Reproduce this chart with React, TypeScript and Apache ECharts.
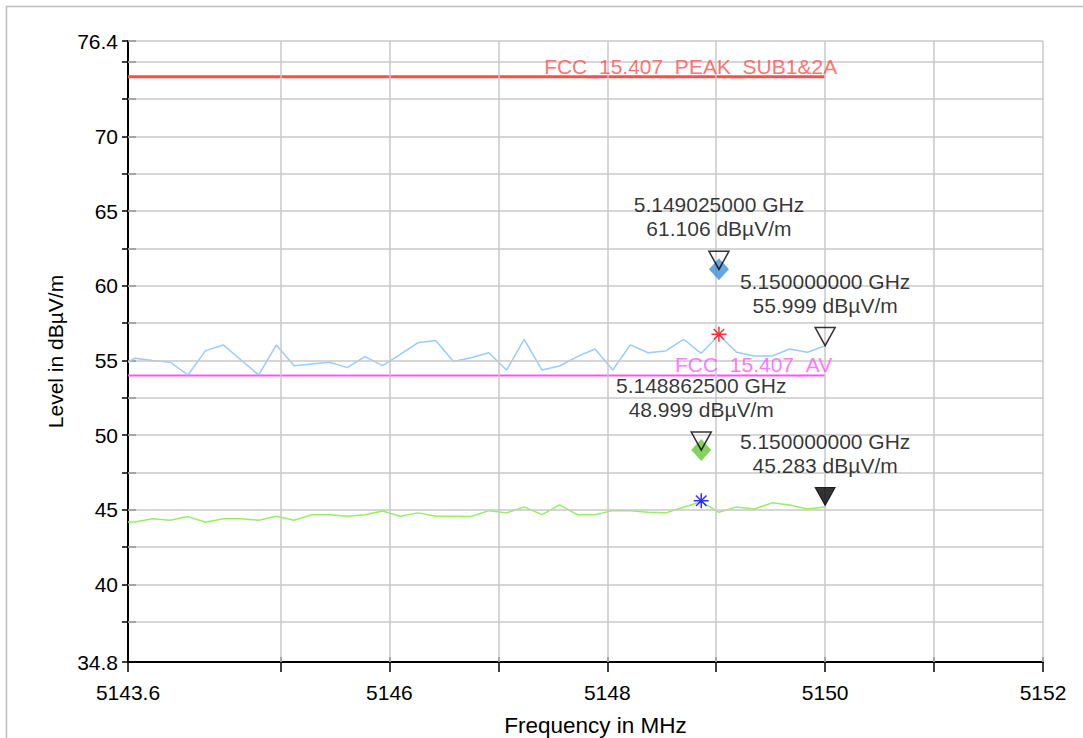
import React, { useEffect, useRef } from "react";
import * as echarts from "echarts";

// Sweep frequencies (MHz)
const FREQ_MHZ = [
  5143.6, 5143.6625, 5143.825, 5143.9875, 5144.15, 5144.3125, 5144.475, 5144.6375, 5144.8, 5144.9625,
  5145.125, 5145.2875, 5145.45, 5145.6125, 5145.775, 5145.9375, 5146.1, 5146.2625, 5146.425, 5146.5875,
  5146.75, 5146.9125, 5147.075, 5147.2375, 5147.4, 5147.5625, 5147.725, 5147.8875, 5148.05, 5148.2125,
  5148.375, 5148.5375, 5148.7, 5148.8625, 5149.025, 5149.1875, 5149.35, 5149.5125, 5149.675, 5149.8375,
  5150,
];
// Peak detector trace (dBµV/m)
const PEAK_TRACE = [
  54.88, 55.15, 54.99, 54.88, 54.03, 55.66, 56.04, 55.03, 54.03, 56.04,
  54.65, 54.77, 54.88, 54.52, 55.26, 54.65, 55.41, 56.19, 56.33, 54.93,
  55.18, 55.52, 54.36, 56.42, 54.36, 54.63, 55.26, 55.77, 54.36, 56.04,
  55.52, 55.64, 56.42, 55.48, 56.7, 55.55, 55.3, 55.3, 55.77, 55.55,
  55.99,
];
// Average detector trace (dBµV/m)
const AVG_TRACE = [
  44.18, 44.18, 44.4, 44.3, 44.54, 44.16, 44.4, 44.4, 44.3, 44.56,
  44.3, 44.67, 44.67, 44.56, 44.67, 44.92, 44.56, 44.79, 44.56, 44.56,
  44.55, 44.94, 44.79, 45.19, 44.67, 45.32, 44.67, 44.67, 44.94, 44.94,
  44.83, 44.79, 45.17, 45.54, 44.83, 45.19, 45.05, 45.46, 45.32, 45.05,
  45.19,
];

// Limit lines
const LIMIT_NAMES = ["FCC_15.407_PEAK_SUB1&2A", "FCC_15.407_AV"];
const LIMIT_LEVELS = [74, 54];
const LIMIT_START = 5143.6;
const LIMIT_END = 5150;

// Markers (triangles + readouts)
const MARKER_FREQ = [5149.025, 5150, 5148.8625, 5150];
const MARKER_LEVEL = [61.106, 55.999, 48.999, 45.283];
const MARKER_FILLED = [false, false, false, true];
// Final measurement diamonds
const DIAMOND_FREQ = [5149.025, 5148.8625];
const DIAMOND_LEVEL = [61.106, 48.999];
// Trace maximum stars
const STAR_FREQ = [5149.025, 5148.8625];
const STAR_LEVEL = [56.75, 45.6];

// Axes
const X_MIN = 5143.6;
const X_MAX = 5152;
const X_TICKS = [5143.6, 5145, 5146, 5147, 5148, 5149, 5150, 5151, 5152];
const X_LABELS = [5143.6, 5146, 5148, 5150, 5152];
const X_GRID = [5145, 5146, 5147, 5148, 5149, 5150, 5151, 5152];
const Y_MIN = 34.8;
const Y_MAX = 76.4;
const Y_TICKS = [34.8, 37.5, 40, 42.5, 45, 47.5, 50, 52.5, 55, 57.5, 60, 62.5, 65, 67.5, 70, 72.5, 75, 76.4];
const Y_LABELS = [34.8, 40, 45, 50, 55, 60, 65, 70, 76.4];
const Y_GRID = [37.5, 40, 42.5, 45, 47.5, 50, 52.5, 55, 57.5, 60, 62.5, 65, 67.5, 70, 72.5, 75, 76.4];

const FONT = "'Liberation Sans', Arial, sans-serif";
const TRI = "path://M0,0L20,0L10,18Z";
const STAR = "path://M10,0L10,20M0,10L20,10M3,3L17,17M3,17L17,3";

function buildOption(): any {
  const axisBaseX = {
    type: "value",
    min: X_MIN,
    max: X_MAX,
    position: "bottom",
    splitLine: { show: false },
  };
  const axisBaseY = {
    type: "value",
    min: Y_MIN,
    max: Y_MAX,
    position: "left",
    splitLine: { show: false },
  };
  return {
    animation: false,
    backgroundColor: "#fff",
    textStyle: { fontFamily: FONT },
    graphic: [
      {
        type: "rect",
        shape: { x: 6.5, y: 6.5, width: 1200, height: 900 },
        style: { fill: "none", stroke: "#bdbdbd", lineWidth: 1.5 },
        silent: true,
        z: -10,
      },
    ],
    grid: { left: 128, right: 40, top: 41, bottom: 76, containLabel: false, outerBoundsMode: "none" },
    xAxis: [
      {
        ...axisBaseX,
        name: "Frequency in MHz",
        nameLocation: "middle",
        nameGap: 52,
        nameTextStyle: { fontSize: 22.5, color: "#000", fontFamily: FONT, padding: [0, 0, 0, 20] },
        axisLine: { show: true, onZero: false, lineStyle: { color: "#000", width: 2 } },
        axisTick: { show: true, customValues: X_TICKS, length: 10, lineStyle: { color: "#000", width: 1.5 } },
        axisLabel: {
          show: true,
          customValues: X_LABELS,
          formatter: (v: number) => String(v),
          fontSize: 21,
          color: "#000",
          fontFamily: FONT,
          margin: 20,
        },
      },
      {
        ...axisBaseX,
        axisLine: { show: false, onZero: false },
        axisTick: { show: true, inside: true, customValues: X_TICKS, length: 5, lineStyle: { color: "#000", width: 1.5 } },
        axisLabel: { show: false },
      },
    ],
    yAxis: [
      {
        ...axisBaseY,
        name: "Level in dBµV/m",
        nameLocation: "middle",
        nameGap: 61,
        nameTextStyle: { fontSize: 21, color: "#000", fontFamily: FONT },
        axisLine: { show: true, onZero: false, lineStyle: { color: "#000", width: 2 } },
        axisTick: { show: true, customValues: Y_TICKS, length: 6, lineStyle: { color: "#000", width: 1.5 } },
        axisLabel: {
          show: true,
          customValues: Y_LABELS,
          formatter: (v: number) => String(v),
          fontSize: 21,
          color: "#000",
          fontFamily: FONT,
          margin: 10,
        },
      },
      {
        ...axisBaseY,
        axisLine: { show: false, onZero: false },
        axisTick: { show: true, inside: true, customValues: Y_TICKS, length: 8, lineStyle: { color: "#000", width: 1.5 } },
        axisLabel: { show: false },
      },
    ],
    series: [
      {
        name: "grid",
        type: "line",
        data: [],
        z: 0,
        silent: true,
        markLine: {
          silent: true,
          symbol: ["none", "none"],
          label: { show: false },
          emphasis: { disabled: true },
          lineStyle: { color: "#c8c8c8", width: 1.5, type: "solid" },
          data: [
            ...X_GRID.map((v) => ({ xAxis: v })),
            ...Y_GRID.map((v) => ({ yAxis: v })),
          ],
        },
      },
      {
        name: LIMIT_NAMES[0],
        type: "line",
        symbol: "none",
        z: 3,
        lineStyle: { color: "#ff4d4d", width: 3 },
        data: [[LIMIT_START, LIMIT_LEVELS[0]], [LIMIT_END, LIMIT_LEVELS[0]]],
      },
      {
        name: LIMIT_NAMES[1],
        type: "line",
        symbol: "none",
        z: 3,
        lineStyle: { color: "#ff55ff", width: 2 },
        data: [[LIMIT_START, LIMIT_LEVELS[1]], [LIMIT_END, LIMIT_LEVELS[1]]],
      },
      {
        name: "Peak",
        type: "line",
        symbol: "none",
        z: 4,
        lineStyle: { color: "#99ccff", width: 1.5 },
        data: FREQ_MHZ.map((f, i) => [f, PEAK_TRACE[i]]),
      },
      {
        name: "Average",
        type: "line",
        symbol: "none",
        z: 4,
        lineStyle: { color: "#96f064", width: 1.5 },
        data: FREQ_MHZ.map((f, i) => [f, AVG_TRACE[i]]),
      },
      {
        name: "limit labels",
        type: "scatter",
        z: 5,
        symbolSize: 1,
        itemStyle: { color: "rgba(0,0,0,0)" },
        data: LIMIT_NAMES.map((n, i) => ({
          value: [LIMIT_END, LIMIT_LEVELS[i]],
          label: {
            show: true,
            position: "top",
            distance: 10,
            align: "right",
            verticalAlign: "middle",
            offset: [i === 0 ? 12 : 7, 0],
            formatter: n,
            fontSize: 21,
            fontFamily: FONT,
            color: i === 0 ? "#ff4d4d" : "#ff55ff",
          },
        })),
      },
      {
        name: "diamonds",
        type: "scatter",
        z: 6,
        symbol: "diamond",
        symbolSize: [20, 22],
        data: DIAMOND_FREQ.map((f, i) => ({
          value: [f, DIAMOND_LEVEL[i]],
          itemStyle: { color: i === 0 ? "#3f8fd8" : "#66c833" },
        })),
      },
      {
        name: "stars",
        type: "scatter",
        z: 6,
        symbol: STAR,
        symbolSize: 15,
        data: STAR_FREQ.map((f, i) => ({
          value: [f, STAR_LEVEL[i]],
          itemStyle: {
            color: "rgba(0,0,0,0)",
            borderColor: i === 0 ? "#ff0000" : "#0000ff",
            borderWidth: 1.5,
          },
        })),
      },
      {
        name: "markers",
        type: "scatter",
        z: 7,
        symbol: TRI,
        symbolSize: [20, 18],
        symbolOffset: [0, -9],
        data: MARKER_FREQ.map((f, i) => ({
          value: [f, MARKER_LEVEL[i]],
          itemStyle: MARKER_FILLED[i]
            ? { color: "#000", borderColor: "#000", borderWidth: 1 }
            : { color: "rgba(0,0,0,0)", borderColor: "#000", borderWidth: 1.5 },
        })),
      },
      {
        name: "marker readouts",
        type: "scatter",
        z: 8,
        symbolSize: 1,
        itemStyle: { color: "rgba(0,0,0,0)" },
        label: {
          show: true,
          position: "top",
          distance: 28,
          align: "center",
          fontSize: 21,
          lineHeight: 24,
          color: "#000",
          fontFamily: FONT,
          formatter: (p: any) =>
            `${(p.value[0] / 1000).toFixed(9)} GHz\n${p.value[1].toFixed(3)} dBµV/m`,
        },
        data: MARKER_FREQ.map((f, i) => [f, MARKER_LEVEL[i]]),
      },
    ],
  };
}

export default function App() {
  const ref = useRef<HTMLDivElement>(null);
  useEffect(() => {
    if (!ref.current) return;
    const chart = echarts.init(ref.current, null, { renderer: "svg" });
    chart.setOption(buildOption());
    return () => chart.dispose();
  }, []);
  return (
    <div
      ref={ref}
      style={{ position: "fixed", left: 0, top: 0, width: 1083, height: 738, background: "#fff" }}
    />
  );
}
